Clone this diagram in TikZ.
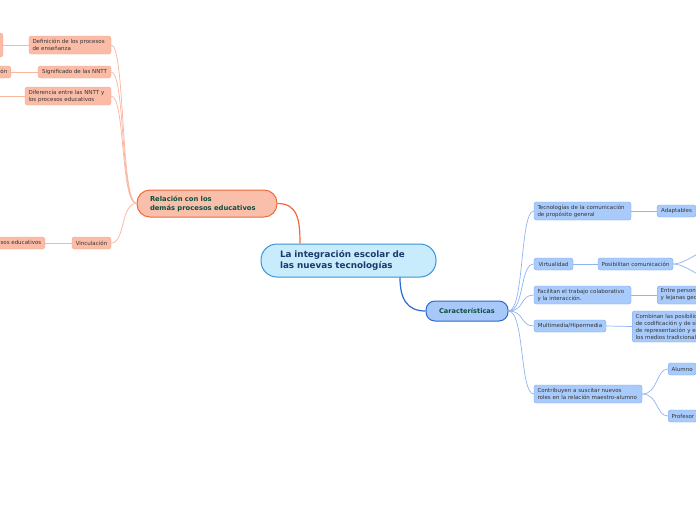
\documentclass[tikz,border=0pt]{standalone}
\usepackage{fontspec}
\setmainfont{DejaVu Sans}
\usetikzlibrary{positioning}
\definecolor{rootfill}{HTML}{C8ECFC}
\definecolor{rootline}{HTML}{3A93D6}
\definecolor{roottext}{HTML}{1B3A6E}
\definecolor{relfill}{HTML}{F9BFAA}
\definecolor{relline}{HTML}{F06A3C}
\definecolor{leaffill}{HTML}{FABCA6}
\definecolor{leafline}{HTML}{F6A68C}
\definecolor{relthin}{HTML}{F9B59E}
\definecolor{carfill}{HTML}{A8C8FA}
\definecolor{carline}{HTML}{2A6AD2}
\definecolor{bluefill}{HTML}{A9CBFB}
\definecolor{blueline}{HTML}{76A6EE}
\definecolor{bluethin}{HTML}{8FB6F3}
\definecolor{greentext}{HTML}{0D4F3C}
\definecolor{leaftext}{HTML}{333333}
\tikzset{
  rootbox/.style={draw=rootline, fill=rootfill, line width=1pt, rounded corners=16pt,
    text=roottext, align=left, font=\fontsize{8.8}{11}\selectfont\bfseries,
    inner xsep=0pt, text width=137pt, minimum width=175pt, minimum height=33pt},
  relbox/.style={draw=relline, fill=relfill, line width=1pt, rounded corners=13pt,
    text=greentext, align=left, font=\fontsize{6.8}{9}\selectfont\bfseries,
    inner xsep=0pt, text width=114pt, minimum width=140pt, minimum height=27pt},
  carbox/.style={draw=carline, fill=carfill, line width=1pt, rounded corners=9pt,
    text=greentext, font=\fontsize{6.6}{8}\selectfont\bfseries,
    minimum width=82pt, minimum height=20pt},
  leafbox/.style={draw=leafline, fill=leaffill, rounded corners=2.5pt, text=leaftext,
    align=left, inner xsep=3.5pt, inner ysep=1pt, font=\fontsize{5.5}{7}\selectfont,
    minimum height=12pt},
  bluebox/.style={draw=blueline, fill=bluefill, rounded corners=2.5pt, text=leaftext,
    align=left, inner xsep=3.5pt, inner ysep=1pt, font=\fontsize{5.5}{7}\selectfont,
    minimum height=12pt},
  relwire/.style={draw=relline, line width=1.2pt},
  carwire/.style={draw=carline, line width=1.2pt},
  relsub/.style={draw=relthin, line width=0.7pt},
  carsub/.style={draw=bluethin, line width=0.7pt}
}
\begin{document}
\begin{tikzpicture}[x=1pt, y=-1pt]
  \useasboundingbox (0,0) rectangle (696,520);
  \clip (0,0) rectangle (696,520);
  \fill[white] (0,0) rectangle (696,520);
  % central topic
  \node[rootbox] (root) at (348.5,260.5) {La integración escolar de\\las nuevas tecnologías};
  % main branches
  \node[relbox] (rel) at (207,203.5) {Relación con los\\demás procesos educativos};
  \node[carbox] (car) at (467,311) {Características};
  \draw[relwire] ([xshift=-48.5pt]root.north) .. controls +(0,-24) and +(20,0) .. (rel.east);
  \draw[carwire] ([xshift=51.5pt]root.south) .. controls +(0,22) and +(-18,0) .. (car.west);
  % left side
  \node[leafbox, text width=75pt, minimum height=18pt] (def) at (70,45) {Definición de los procesos\\de enseñanza};
  \node[leafbox, minimum width=73pt] (sig) at (74.5,72) {Significado de las NNTT};
  \node[leafbox, text width=79pt, minimum height=18pt] (dif) at (68,96) {Diferencia entre las NNTT y\\los procesos educativos};
  \node[leafbox, minimum width=39pt] (vin) at (91.5,243) {Vinculación};
  \node[leafbox, minimum width=60pt, minimum height=24pt, anchor=east] (defleaf) at (3,45) {};
  \node[leafbox, anchor=east] (sigleaf) at (11,72) {Tecnologías de la información};
  \coordinate (difleaf) at (-20,96);
  \node[leafbox, anchor=east] (vinleaf) at (45,243) {Otros procesos educativos};
  \foreach \n in {def,sig,dif,vin}
    \draw[relsub] (rel.west) .. controls +(-16,0) and +(14,0) .. (\n.east);
  \draw[relsub] (def.west) -- (defleaf.east);
  \draw[relsub] (sig.west) -- (sigleaf.east);
  \draw[relsub] (dif.west) -- (difleaf);
  \draw[relsub] (vin.west) -- (vinleaf.east);
  % right side
  \node[bluebox, text width=90pt, minimum height=18pt] (tec) at (582.5,211) {Tecnologías de la comunicación\\de propósito general};
  \node[bluebox, minimum width=39pt] (ada) at (676.5,211) {Adaptables};
  \node[bluebox, minimum width=39pt] (vir) at (553.5,264) {Virtualidad};
  \node[bluebox, minimum width=75pt] (pos) at (635.5,264) {Posibilitan comunicación};
  \coordinate (posup) at (720,244);
  \coordinate (posdown) at (720,284);
  \node[bluebox, text width=90pt, minimum height=18pt] (fac) at (582.5,295) {Facilitan el trabajo colaborativo\\y la interacción.};
  \node[bluebox, minimum height=18pt, anchor=west] (ent) at (657,295) {Entre personas cercanas\\y lejanas geográficamente};
  \node[bluebox, minimum width=72pt] (mul) at (570,326) {Multimedia/Hipermedia};
  \node[bluebox, minimum height=31pt, anchor=west] (com) at (632,326.5) {Combinan las posibilidades\\de codificación y de simbolización\\de representación y expresión de\\los medios tradicionales};
  \node[bluebox, text width=101pt, minimum height=18pt] (con) at (588,394) {Contribuyen a suscitar nuevos\\roles en la relación maestro-alumno};
  \node[bluebox, anchor=west] (alu) at (668,369) {Alumno};
  \node[bluebox, anchor=west] (pro) at (668,416) {Profesor};
  \foreach \n in {tec,vir,fac,mul,con}
    \draw[carsub] (car.east) .. controls +(16,0) and +(-14,0) .. (\n.west);
  \draw[carsub] (tec.east) -- (ada.west);
  \draw[carsub] (vir.east) -- (pos.west);
  \draw[carsub] (fac.east) -- (ent.west);
  \draw[carsub] (mul.east) -- (com.west);
  \draw[carsub] (pos.east) .. controls +(14,0) and +(-12,0) .. (posup);
  \draw[carsub] (pos.east) .. controls +(14,0) and +(-12,0) .. (posdown);
  \draw[carsub] (con.east) .. controls +(16,0) and +(-12,0) .. (alu.west);
  \draw[carsub] (con.east) .. controls +(16,0) and +(-12,0) .. (pro.west);
\end{tikzpicture}
\end{document}
